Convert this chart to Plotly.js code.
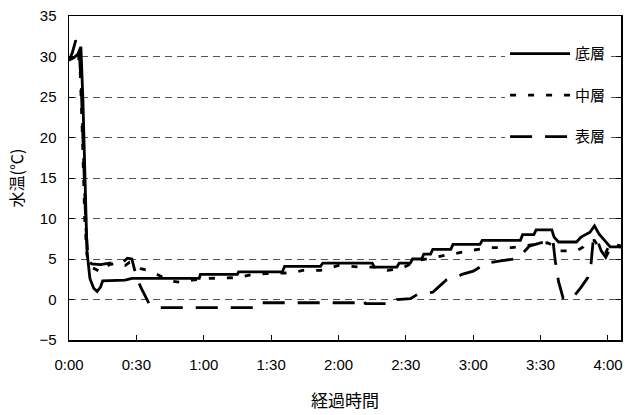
<!DOCTYPE html>
<html>
<head>
<meta charset="utf-8">
<script src="https://cdn.plot.ly/plotly-3.0.1.min.js"></script>
<style>html,body{margin:0;padding:0;background:#fff;}#chart{width:625px;height:415px;}</style>
</head>
<body>
<div id="chart"></div>
<script>
// elapsed time in minutes
var tickMinutes = [0, 30, 60, 90, 120, 150, 180, 210, 240];
var tickLabels = ["0:00", "0:30", "1:00", "1:30", "2:00", "2:30", "3:00", "3:30", "4:00"];
var seriesNames = ["底層", "中層", "表層"];

var bottomT = [0, 2, 4, 5.3, 6.2, 7.1, 8, 9.3, 11, 12.5, 14, 15, 25, 28, 58, 58.5, 75, 75.5, 95, 96, 112, 113, 135, 136, 146, 147, 152, 153, 157, 158, 161, 162, 170, 171, 183, 184, 201, 202, 207, 208, 215, 216, 218, 226, 228, 232, 234, 236, 239.5, 241, 246];
var bottomV = [29.6, 29.8, 30.3, 31.2, 24.6, 16, 6, 2.6, 1.4, 1.0, 1.5, 2.3, 2.4, 2.6, 2.6, 3.1, 3.1, 3.4, 3.4, 4.1, 4.1, 4.5, 4.5, 4.0, 4.0, 4.5, 4.5, 5.0, 5.0, 5.6, 5.6, 6.2, 6.2, 6.8, 6.8, 7.3, 7.3, 8.0, 8.0, 8.6, 8.6, 7.7, 7.1, 7.1, 7.7, 8.3, 9.1, 8.1, 6.9, 6.5, 6.5];

var middleT = [0, 2, 4, 5, 6, 7, 8, 9, 10, 14, 16, 18, 22, 25, 27, 29, 32, 35, 40, 45, 50, 55, 62, 75, 82, 88, 100, 104, 112, 120, 130, 137, 142, 148, 155, 164, 172, 180, 188, 197, 205, 213, 216, 218, 226, 229, 231, 234, 237, 239, 241, 246];
var middleV = [29.5, 30, 30.8, 28, 20, 10, 5.5, 4.5, 4.0, 3.4, 4.0, 4.3, 4.5, 4.2, 4.6, 4.4, 3.8, 3.6, 3.0, 2.3, 2.1, 2.4, 2.6, 2.7, 3.1, 3.2, 3.3, 3.6, 3.6, 4.2, 4.0, 4.0, 3.6, 3.8, 4.8, 5.3, 5.7, 6.1, 6.4, 6.4, 6.7, 7.0, 6.6, 6.0, 6.0, 6.5, 7.2, 7.3, 6.0, 5.8, 6.9, 6.6];

var surfaceT = [0, 1.5, 3, 4.5, 5.5, 6.5, 7.5, 8.5, 10, 14, 18, 22, 24, 26, 28, 30, 32, 35.6, 40, 85, 86, 130, 131, 132, 145, 146, 152, 155, 162, 164, 168, 173, 175, 180, 186, 193, 198, 202, 205, 210, 214, 215.5, 216.5, 218, 220, 224, 228, 231, 232.5, 233.5, 235, 237, 239, 241, 246];
var surfaceV = [29.5, 30.5, 32, 31, 26, 17, 9, 5, 4.4, 4.3, 4.5, 4.4, 4.6, 5.1, 5.0, 2.8, 1.5, -0.5, -1.0, -1.0, -0.4, -0.4, 0, -0.5, -0.5, 0, 0.1, 0.6, 0.9, 1.4, 2.4, 2.8, 3.1, 3.5, 4.5, 4.8, 5.0, 5.7, 6.6, 7.0, 7.2, 7.3, 4.8, 2.2, 0.2, 0.1, 1.5, 2.7, 4.5, 7.6, 7.5, 6.0, 5.2, 6.3, 6.5];

var F = "Liberation Sans, Arial, 'Noto Sans CJK JP', sans-serif";
var FJ = "'Noto Sans CJK JP', sans-serif";

var traces = [
  {x: bottomT, y: bottomV, name: seriesNames[0], legendgroup: "a", mode: "lines",
   line: {color: "#000", width: 2.8, dash: "solid"}},
  {x: middleT, y: middleV, name: seriesNames[1], legendgroup: "b", mode: "lines",
   line: {color: "#000", width: 2.8, dash: "6px,12px"}},
  {x: surfaceT, y: surfaceV, name: seriesNames[2], legendgroup: "c", mode: "lines",
   line: {color: "#000", width: 2.8, dash: "22px,13px"}}
];

var layout = {
  width: 625, height: 415,
  margin: {l: 69, r: 4, t: 16, b: 75},
  paper_bgcolor: "#fff", plot_bgcolor: "#fff",
  showlegend: true,
  legend: {x: 0.79, y: 0.934, xanchor: "left", yanchor: "top", bgcolor: "#fff",
           borderwidth: 0, itemwidth: 60, tracegroupgap: 19, traceorder: "grouped",
           font: {family: FJ, size: 15, color: "#000"}},
  xaxis: {
    range: [0, 245.8], tickmode: "array", tickvals: tickMinutes, ticktext: tickLabels,
    showgrid: false, zeroline: false, showline: true, linecolor: "#000", linewidth: 1.5,
    mirror: true, ticks: "inside", ticklen: 5, tickcolor: "#000",
    ticklabelstandoff: 10,
    tickfont: {family: F, size: 15, color: "#000"},
    title: {text: "経過時間", font: {family: FJ, size: 17, color: "#000"}, standoff: 23}
  },
  yaxis: {
    range: [-5, 35], tickmode: "array", tickvals: [-5, 0, 5, 10, 15, 20, 25, 30, 35],
    showgrid: true, gridcolor: "#555", gridwidth: 1, griddash: "7px,5px",
    zeroline: false, showline: true, linecolor: "#000", linewidth: 1.5,
    mirror: "ticks", ticks: "inside", ticklen: 5, tickcolor: "#000",
    ticklabelstandoff: 8,
    tickfont: {family: F, size: 15, color: "#000"},
    title: {text: "水温(℃)", font: {family: FJ, size: 16, color: "#000"}, standoff: 12}
  }
};

Plotly.newPlot("chart", traces, layout, {staticPlot: true, displayModeBar: false});
</script>
</body>
</html>
